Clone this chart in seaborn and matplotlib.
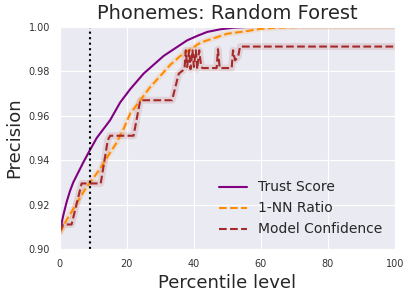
import matplotlib
matplotlib.use("Agg")
import matplotlib.pyplot as plt
import seaborn as sns

# data
trust_pct = [0, 1, 2, 3, 4, 5, 7, 9, 11, 13, 15, 18, 21, 25, 28, 31, 35, 38, 41, 44, 48, 52, 56, 100]
trust_val = [0.908, 0.915, 0.921, 0.926, 0.930, 0.933, 0.939, 0.9446, 0.950, 0.954, 0.958, 0.966,
             0.972, 0.979, 0.983, 0.987, 0.991, 0.994, 0.996, 0.9978, 0.999, 0.9997, 1.0, 1.0]

nn_pct = [0, 1, 2, 4, 6, 8, 10, 12, 14, 17, 19, 21, 24, 27, 30, 33, 36, 39, 42, 46, 50, 55,
          60, 65, 72, 100]
nn_val = [0.907, 0.910, 0.913, 0.918, 0.923, 0.928, 0.932, 0.936, 0.941, 0.948, 0.954, 0.961,
          0.967, 0.973, 0.978, 0.983, 0.987, 0.990, 0.993, 0.995, 0.997, 0.998, 0.9992, 0.9997,
          1.0, 1.0]

conf_pct = [0, 1, 3.5, 6.5, 12.2, 14.3, 15, 22, 24, 33.5, 35.5, 37.2, 37.6, 38.0, 38.6, 39.0, 39.6,
            40.0, 40.6, 41.0, 41.6, 42.2, 42.6, 46.8, 47.2, 47.7, 51.3, 51.7, 52.3, 53.2, 53.8, 100]
conf_val = [0.908, 0.911, 0.911, 0.9295, 0.9295, 0.949, 0.951, 0.951, 0.967, 0.967, 0.979, 0.981,
            0.9895, 0.982, 0.9895, 0.981, 0.9895, 0.982, 0.9895, 0.981, 0.9895, 0.982, 0.9815,
            0.9815, 0.990, 0.9815, 0.9815, 0.9895, 0.985, 0.9865, 0.9912, 0.9912]

cutoff = 9

sns.set_style("darkgrid")
plt.rcParams["font.family"] = ["DejaVu Sans"]

fig, ax = plt.subplots(figsize=(4.1, 2.97), dpi=100)
fig.subplots_adjust(left=0.146, right=0.963, top=0.909, bottom=0.162)

# faint bands under the dashed lines
sns.lineplot(x=nn_pct, y=nn_val, color="darkorange", linewidth=4, alpha=0.12, ax=ax)
sns.lineplot(x=conf_pct, y=conf_val, color="brown", linewidth=5, alpha=0.13, ax=ax)

sns.lineplot(x=trust_pct, y=trust_val, color="purple", linewidth=1.5, label="Trust Score", ax=ax)
sns.lineplot(x=nn_pct, y=nn_val, color="darkorange", linewidth=1.5, linestyle="--",
             label="1-NN Ratio", ax=ax)
sns.lineplot(x=conf_pct, y=conf_val, color="brown", linewidth=1.5, linestyle="--",
             label="Model Confidence", ax=ax)

ax.axvline(cutoff, color="black", linestyle=":", linewidth=1.5)

ax.set_xlim(0, 100)
ax.set_ylim(0.90, 1.00)
ax.set_xticks([0, 20, 40, 60, 80, 100])
ax.set_yticks([0.90, 0.92, 0.94, 0.96, 0.98, 1.00])
ax.tick_params(labelsize=7, colors="#333333")
ax.set_title("Phonemes: Random Forest", fontsize=14, color="#262626")
ax.set_xlabel("Percentile level", fontsize=13, color="#262626")
ax.set_ylabel("Precision", fontsize=13, color="#262626")
ax.legend(loc="lower right", frameon=False, fontsize=10)

fig.savefig("out.png", dpi=100)
